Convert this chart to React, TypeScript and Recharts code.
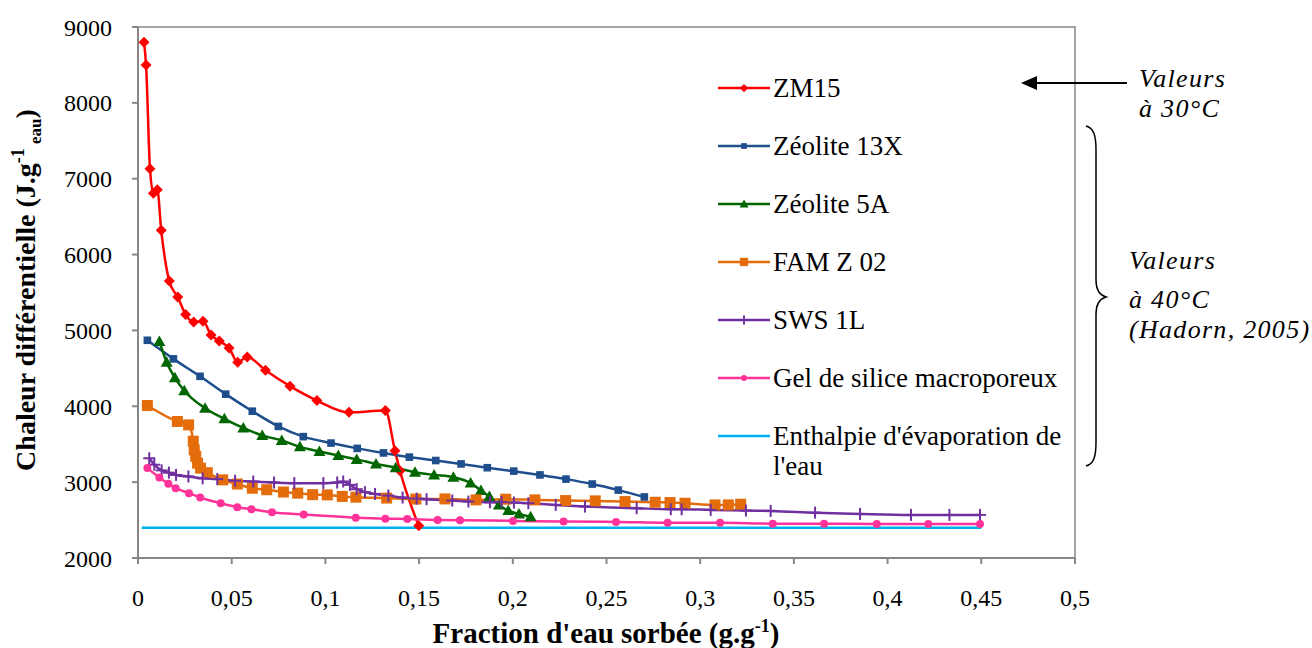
import React from 'react';
import { LineChart, Line, XAxis, YAxis, ReferenceArea, Legend } from 'recharts';

type Pt = [number, number];

const xTicks = [0, 0.05, 0.1, 0.15, 0.2, 0.25, 0.3, 0.35, 0.4, 0.45, 0.5];
const yTicks = [2000, 3000, 4000, 5000, 6000, 7000, 8000, 9000];

const zm15: Pt[] = [
  [0.0032, 8800], [0.0043, 8500], [0.0064, 7130], [0.0082, 6810], [0.0103, 6855],
  [0.0124, 6320], [0.0167, 5650], [0.0212, 5440], [0.0254, 5210], [0.0297, 5110],
  [0.0347, 5120], [0.039, 4940], [0.0434, 4860], [0.0486, 4770], [0.0532, 4580],
  [0.0583, 4650], [0.068, 4475], [0.0811, 4265], [0.0955, 4075], [0.1126, 3920],
  [0.132, 3945], [0.1371, 3415], [0.1398, 3150], [0.1498, 2425],
];

const zeolite13x: Pt[] = [
  [0.005, 4870], [0.0189, 4625], [0.0331, 4395], [0.0468, 4160], [0.061, 3935],
  [0.0749, 3735], [0.0882, 3600], [0.103, 3515], [0.117, 3445], [0.131, 3385],
  [0.1448, 3330], [0.1589, 3285], [0.1724, 3240], [0.1864, 3190], [0.2005, 3145],
  [0.2145, 3095], [0.2284, 3040], [0.2424, 2975], [0.2563, 2895], [0.2702, 2805],
];

const zeolite5a: Pt[] = [
  [0.0114, 4855], [0.0153, 4580], [0.0197, 4375], [0.0247, 4205], [0.0358, 3975],
  [0.0461, 3835], [0.0562, 3715], [0.0663, 3615], [0.0767, 3550], [0.0864, 3465],
  [0.0968, 3405], [0.1069, 3350], [0.1167, 3300], [0.127, 3240], [0.1375, 3190],
  [0.1478, 3130], [0.158, 3095], [0.1683, 3065], [0.1775, 2990], [0.183, 2890],
  [0.1875, 2810], [0.1926, 2700], [0.1976, 2625], [0.2033, 2580], [0.2095, 2545],
];

const famz02: Pt[] = [
  [0.005, 4010], [0.021, 3800], [0.027, 3755], [0.0295, 3540], [0.03, 3425],
  [0.0308, 3340], [0.0318, 3250], [0.0334, 3185], [0.037, 3125], [0.0452, 3030],
  [0.053, 2975], [0.061, 2920], [0.0687, 2900], [0.0776, 2870], [0.0852, 2855],
  [0.0932, 2835], [0.101, 2832], [0.109, 2812], [0.1163, 2802], [0.1327, 2790],
  [0.1483, 2777], [0.1638, 2779], [0.1804, 2766], [0.1962, 2775], [0.2118, 2766],
  [0.2282, 2757], [0.244, 2753], [0.2599, 2744], [0.276, 2735], [0.2839, 2731],
  [0.2919, 2722], [0.3079, 2700], [0.315, 2700], [0.3216, 2709],
];

const sws1l: Pt[] = [
  [0.006, 3315], [0.0087, 3230], [0.0126, 3155], [0.0165, 3125], [0.0203, 3095],
  [0.0269, 3075], [0.0345, 3050], [0.0423, 3040], [0.0518, 3018], [0.0615, 3008],
  [0.0726, 2995], [0.0834, 2987], [0.0989, 2987], [0.1063, 2995], [0.1095, 3008],
  [0.1131, 2964], [0.1167, 2907], [0.1211, 2868], [0.1265, 2845], [0.1336, 2823],
  [0.1412, 2797], [0.1487, 2783], [0.154, 2775], [0.1677, 2757], [0.1763, 2744],
  [0.1878, 2735], [0.194, 2738], [0.2006, 2731], [0.2083, 2722], [0.2229, 2700],
  [0.2385, 2678], [0.2661, 2656], [0.2843, 2643], [0.2901, 2643], [0.3056, 2634],
  [0.3244, 2625], [0.3376, 2621], [0.3613, 2598], [0.3853, 2581], [0.4125, 2568],
  [0.433, 2568], [0.4493, 2568],
];

const gelSilice: Pt[] = [
  [0.005, 3185], [0.0114, 3060], [0.0162, 2978], [0.0201, 2920], [0.0272, 2855],
  [0.0332, 2797], [0.0441, 2722], [0.053, 2670], [0.0605, 2643], [0.0715, 2603],
  [0.0884, 2572], [0.1162, 2532], [0.132, 2519], [0.1437, 2515], [0.1599, 2502],
  [0.1718, 2498], [0.2001, 2489], [0.2271, 2480], [0.2551, 2476], [0.2826, 2466],
  [0.3106, 2466], [0.3387, 2453], [0.3661, 2453], [0.3942, 2449], [0.4217, 2449],
  [0.4493, 2449],
];

const enthalpie: Pt[] = [[0.002, 2400], [0.45, 2400]];

type Shape = 'diamond' | 'smallSquare' | 'triangle' | 'square' | 'plus' | 'circle' | 'none';

const series: { name: string; pts: Pt[]; color: string; shape: Shape }[] = [
  { name: 'ZM15', pts: zm15, color: '#FF0000', shape: 'diamond' },
  { name: 'Zéolite 13X', pts: zeolite13x, color: '#1F4E8C', shape: 'smallSquare' },
  { name: 'Zéolite 5A', pts: zeolite5a, color: '#006600', shape: 'triangle' },
  { name: 'FAM Z 02', pts: famz02, color: '#E46C0A', shape: 'square' },
  { name: 'SWS 1L', pts: sws1l, color: '#7030A0', shape: 'plus' },
  { name: 'Gel de silice macroporeux', pts: gelSilice, color: '#FF3399', shape: 'circle' },
  { name: 'Enthalpie d\'évaporation de l\'eau', pts: enthalpie, color: '#00B0F0', shape: 'none' },
];

const FONT = '"Liberation Serif", "Times New Roman", serif';
const AXIS = '#868686';

function Marker({ shape, cx, cy, color, s = 1 }: { shape: Shape; cx: number; cy: number; color: string; s?: number }) {
  if (cx == null || cy == null) return null;
  switch (shape) {
    case 'diamond': {
      const r = 5.5 * s;
      return <polygon points={`${cx},${cy - r} ${cx + r},${cy} ${cx},${cy + r} ${cx - r},${cy}`} fill={color} />;
    }
    case 'smallSquare': {
      const h = 3.8 * s;
      return <rect x={cx - h} y={cy - h} width={2 * h} height={2 * h} fill={color} />;
    }
    case 'square': {
      const h = 5.5 * s;
      return <rect x={cx - h} y={cy - h} width={2 * h} height={2 * h} fill={color} />;
    }
    case 'triangle': {
      const r = 6 * s;
      return <polygon points={`${cx},${cy - r} ${cx + r},${cy + r * 0.75} ${cx - r},${cy + r * 0.75}`} fill={color} />;
    }
    case 'plus': {
      const r = 6 * s;
      return (
        <g stroke={color} strokeWidth={2}>
          <line x1={cx - r} y1={cy} x2={cx + r} y2={cy} />
          <line x1={cx} y1={cy - r} x2={cx} y2={cy + r} />
        </g>
      );
    }
    case 'circle':
      return <circle cx={cx} cy={cy} r={4 * s} fill={color} />;
    default:
      return null;
  }
}

const renderLegend = () => (
  <div style={{ fontFamily: FONT, fontSize: 27, color: '#000' }}>
    {series.map((s) => (
      <div key={s.name} style={{ display: 'flex', alignItems: 'flex-start', height: 58 }}>
        <svg width={58} height={30} style={{ flex: 'none' }}>
          <line x1={3} y1={15} x2={55} y2={15} stroke={s.color} strokeWidth={2.5} />
          <Marker shape={s.shape} cx={29} cy={15} color={s.color} s={0.75} />
        </svg>
        <div style={{ lineHeight: '30px', width: 320, whiteSpace: 'nowrap' }}>
          {s.shape === 'none' ? (<>Enthalpie d'évaporation de<br />l'eau</>) : s.name}
        </div>
      </div>
    ))}
  </div>
);

export default function App() {
  return (
    <div style={{ position: 'absolute', left: 0, top: 0, width: 1312, height: 648, background: '#fff', fontFamily: FONT }}>
      <LineChart width={1312} height={648} margin={{ top: 27, right: 237, bottom: 30, left: 58 }}>
        <ReferenceArea x1={0} x2={0.5} y1={2000} y2={9000} fill="none" stroke={AXIS} strokeWidth={1.5} />
        <XAxis
          type="number"
          dataKey="x"
          domain={[0, 0.5]}
          ticks={xTicks}
          allowDataOverflow
          height={60}
          tickSize={6}
          tickMargin={25}
          stroke={AXIS}
          strokeWidth={2}
          tick={{ fill: '#000', fontSize: 24, fontFamily: FONT }}
          tickFormatter={(v: number) => String(v).replace('.', ',')}
        />
        <YAxis
          type="number"
          domain={[2000, 9000]}
          ticks={yTicks}
          allowDataOverflow
          width={80}
          tickSize={6}
          tickMargin={20}
          stroke={AXIS}
          strokeWidth={2}
          tick={{ fill: '#000', fontSize: 24, fontFamily: FONT }}
        />
        <Legend
          layout="vertical"
          align="center"
          verticalAlign="middle"
          content={renderLegend}
          wrapperStyle={{ position: 'absolute', left: 715, top: 73, width: 380 }}
        />
        {series.map((s) => (
          <Line
            key={s.name}
            name={s.name}
            data={s.pts.map(([x, y]) => ({ x, y }))}
            dataKey="y"
            type="monotone"
            stroke={s.color}
            strokeWidth={2.5}
            isAnimationActive={false}
            activeDot={false}
            dot={s.shape === 'none' ? false : (p: any) => (
              <Marker key={`${s.name}-${p.index}`} shape={s.shape} cx={p.cx} cy={p.cy} color={s.color} />
            )}
          />
        ))}
      </LineChart>
      <svg width={1312} height={648} style={{ position: 'absolute', left: 0, top: 0, pointerEvents: 'none' }}>
        <text transform="translate(35,290) rotate(-90)" textAnchor="middle" fontFamily={FONT} fontWeight="bold" fontSize={28}>
          Chaleur différentielle (J.g
          <tspan fontSize={18} dy={-11}>-1</tspan>
          <tspan fontSize={17} dy={17}> eau</tspan>
          <tspan dy={-6}>)</tspan>
        </text>
        <text x={606} y={643} textAnchor="middle" fontFamily={FONT} fontWeight="bold" fontSize={29}>
          Fraction d'eau sorbée (g.g
          <tspan fontSize={18} dy={-11}>-1</tspan>
          <tspan dy={11}>)</tspan>
        </text>
        <line x1={1127} y1={83} x2={1034} y2={83} stroke="#000" strokeWidth={2} />
        <polygon points="1021,83 1037,76 1037,90" fill="#000" />
        <g fontFamily={FONT} fontStyle="italic" fontSize={26} letterSpacing={1.3} fill="#000">
          <text x={1139} y={87}>Valeurs</text>
          <text x={1139} y={117}>à 30°C</text>
          <text x={1129} y={269}>Valeurs</text>
          <text x={1129} y={308}>à 40°C</text>
          <text x={1129} y={338}>(Hadorn, 2005)</text>
        </g>
        <path
          d="M1086,126 C1094,128 1096,136 1096,150 L1096,280 C1096,290 1099,295 1106,297 C1099,299 1096,304 1096,314 L1096,442 C1096,456 1094,464 1086,466"
          fill="none"
          stroke="#000"
          strokeWidth={1.5}
        />
      </svg>
    </div>
  );
}
